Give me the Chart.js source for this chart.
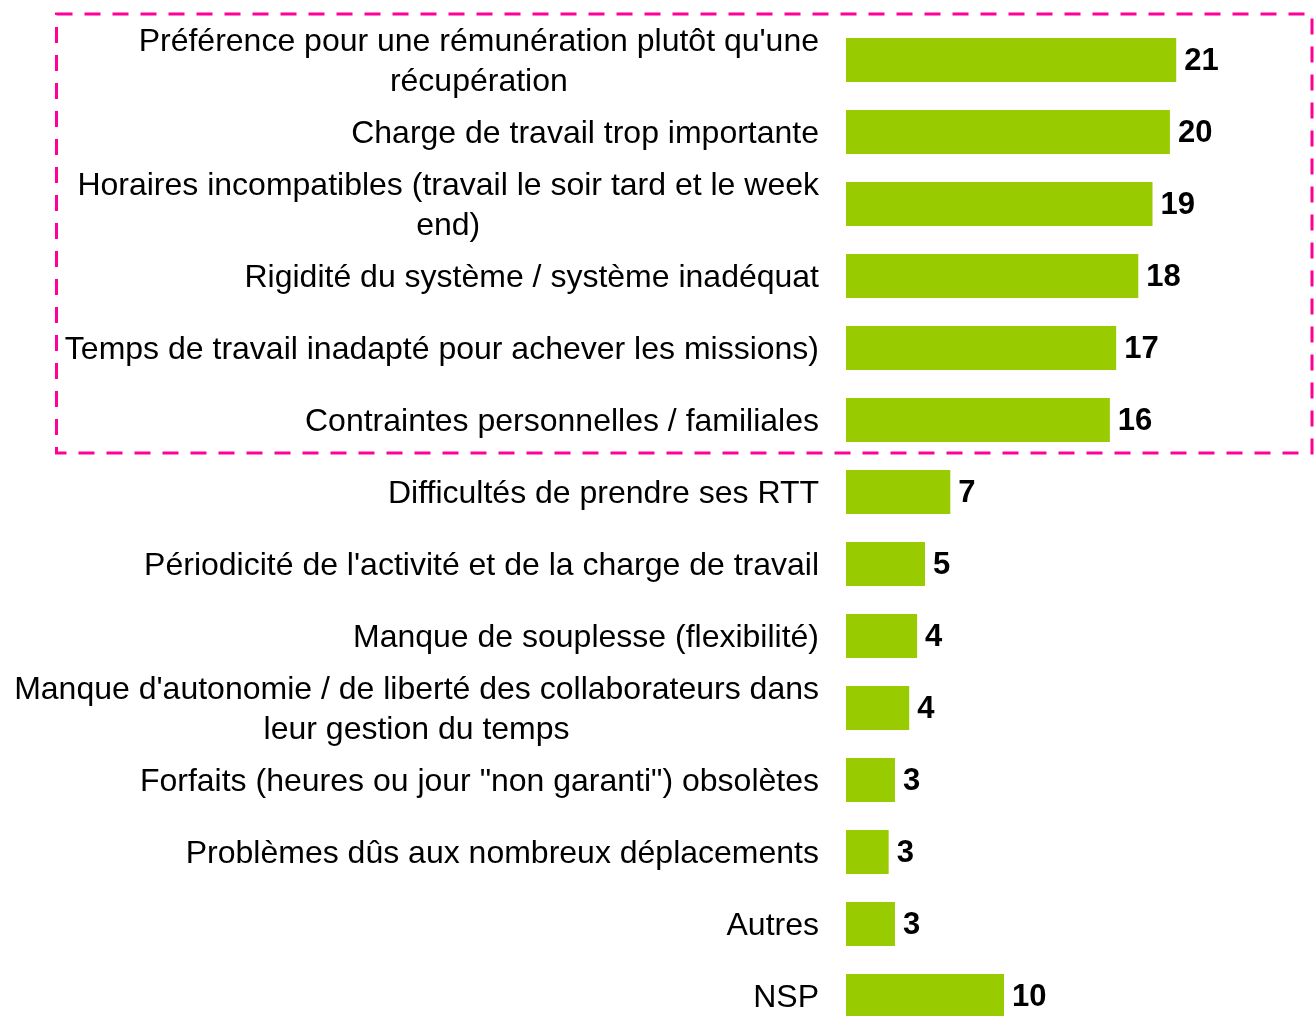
<!DOCTYPE html>
<html>
<head>
<meta charset="utf-8">
<script src="https://cdn.jsdelivr.net/npm/chart.js@4"></script>
<style>
    html, body { margin: 0; padding: 0; background: #fff; overflow: hidden; }
    #wrap { position: relative; width: 1315px; height: 1032px; }
</style>
</head>
<body>
<div id="wrap"><canvas id="barChart"></canvas></div>
<script>
// Data
const categories = [
    ["Préférence pour une rémunération plutôt qu'une", "récupération"],
    ["Charge de travail trop importante"],
    ["Horaires incompatibles (travail le soir tard et le week", "end)"],
    ["Rigidité du système / système inadéquat"],
    ["Temps de travail inadapté pour achever les missions)"],
    ["Contraintes personnelles / familiales"],
    ["Difficultés de prendre ses RTT"],
    ["Périodicité de l'activité et de la charge de travail"],
    ["Manque de souplesse (flexibilité)"],
    ["Manque d'autonomie / de liberté des collaborateurs dans", "leur gestion du temps"],
    ['Forfaits (heures ou jour "non garanti") obsolètes'],
    ["Problèmes dûs aux nombreux déplacements"],
    ["Autres"],
    ["NSP"]
];
const barValues = [20.9, 20.5, 19.4, 18.5, 17.1, 16.7, 6.6, 5.0, 4.5, 4.0, 3.1, 2.7, 3.1, 10.0];
const shownValues = ['21', '20', '19', '18', '17', '16', '7', '5', '4', '4', '3', '3', '3', '10'];
const highlightedCount = 6;

const FONT = '"Liberation Sans", Arial, sans-serif';
const LABEL_SIZE = 32;
const LINE_HEIGHT = 40;
const AXIS_WIDTH = 846;
const LABEL_GAP = 27;

// category labels: right edge aligned, extra lines centered under the first one
const categoryLabels = {
    id: 'categoryLabels',
    afterDraw(chart) {
        const ctx = chart.ctx;
        const y = chart.scales.y;
        const right = chart.chartArea.left - LABEL_GAP;
        ctx.save();
        ctx.font = LABEL_SIZE + 'px ' + FONT;
        ctx.fillStyle = '#000';
        ctx.textAlign = 'center';
        ctx.textBaseline = 'middle';
        categories.forEach((lines, i) => {
            const cy = y.getPixelForValue(i) + 2;
            const w = Math.max(...lines.map(l => ctx.measureText(l).width));
            const cx = right - w / 2;
            lines.forEach((line, j) => {
                ctx.fillText(line, cx, cy + (j - (lines.length - 1) / 2) * LINE_HEIGHT);
            });
        });
        ctx.restore();
    }
};

// value labels at the end of each bar
const valueLabels = {
    id: 'valueLabels',
    afterDatasetsDraw(chart) {
        const ctx = chart.ctx;
        const meta = chart.getDatasetMeta(0);
        ctx.save();
        ctx.font = 'bold 31px ' + FONT;
        ctx.fillStyle = '#000';
        ctx.textAlign = 'left';
        ctx.textBaseline = 'middle';
        meta.data.forEach((bar, i) => {
            ctx.fillText(shownValues[i], bar.x + 8, bar.y + 1);
        });
        ctx.restore();
    }
};

// pink dashed frame around the top group
const highlightBox = {
    id: 'highlightBox',
    afterDraw(chart) {
        const ctx = chart.ctx;
        const y = chart.scales.y;
        const top = y.getPixelForValue(0) - 46;
        const bottom = (y.getPixelForValue(highlightedCount - 1) + y.getPixelForValue(highlightedCount)) / 2 - 3;
        ctx.save();
        ctx.strokeStyle = '#ff0099';
        ctx.lineWidth = 3;
        ctx.setLineDash([16, 12]);
        ctx.strokeRect(56.5, top, 1312 - 56.5, bottom - top);
        ctx.restore();
    }
};

const ctxBar = document.getElementById('barChart').getContext('2d');

const barChart = new Chart(ctxBar, {
    type: 'bar',
    data: {
        labels: categories,
        datasets: [{
            data: barValues,
            backgroundColor: '#99cc00',
            borderWidth: 0,
            barPercentage: 0.61,
            categoryPercentage: 1
        }]
    },
    options: {
        indexAxis: 'y',
        responsive: true,
        maintainAspectRatio: false,
        animation: false,
        layout: {
            padding: { top: 24, bottom: 0, left: 0, right: 74 }
        },
        scales: {
            x: {
                display: false,
                min: 0,
                max: 25
            },
            y: {
                grid: { display: false, drawTicks: false },
                border: { display: false },
                ticks: { display: false },
                afterFit(scale) {
                    scale.width = AXIS_WIDTH;
                }
            }
        },
        plugins: {
            legend: { display: false },
            tooltip: { enabled: false }
        }
    },
    plugins: [categoryLabels, valueLabels, highlightBox]
});
</script>
</body>
</html>
